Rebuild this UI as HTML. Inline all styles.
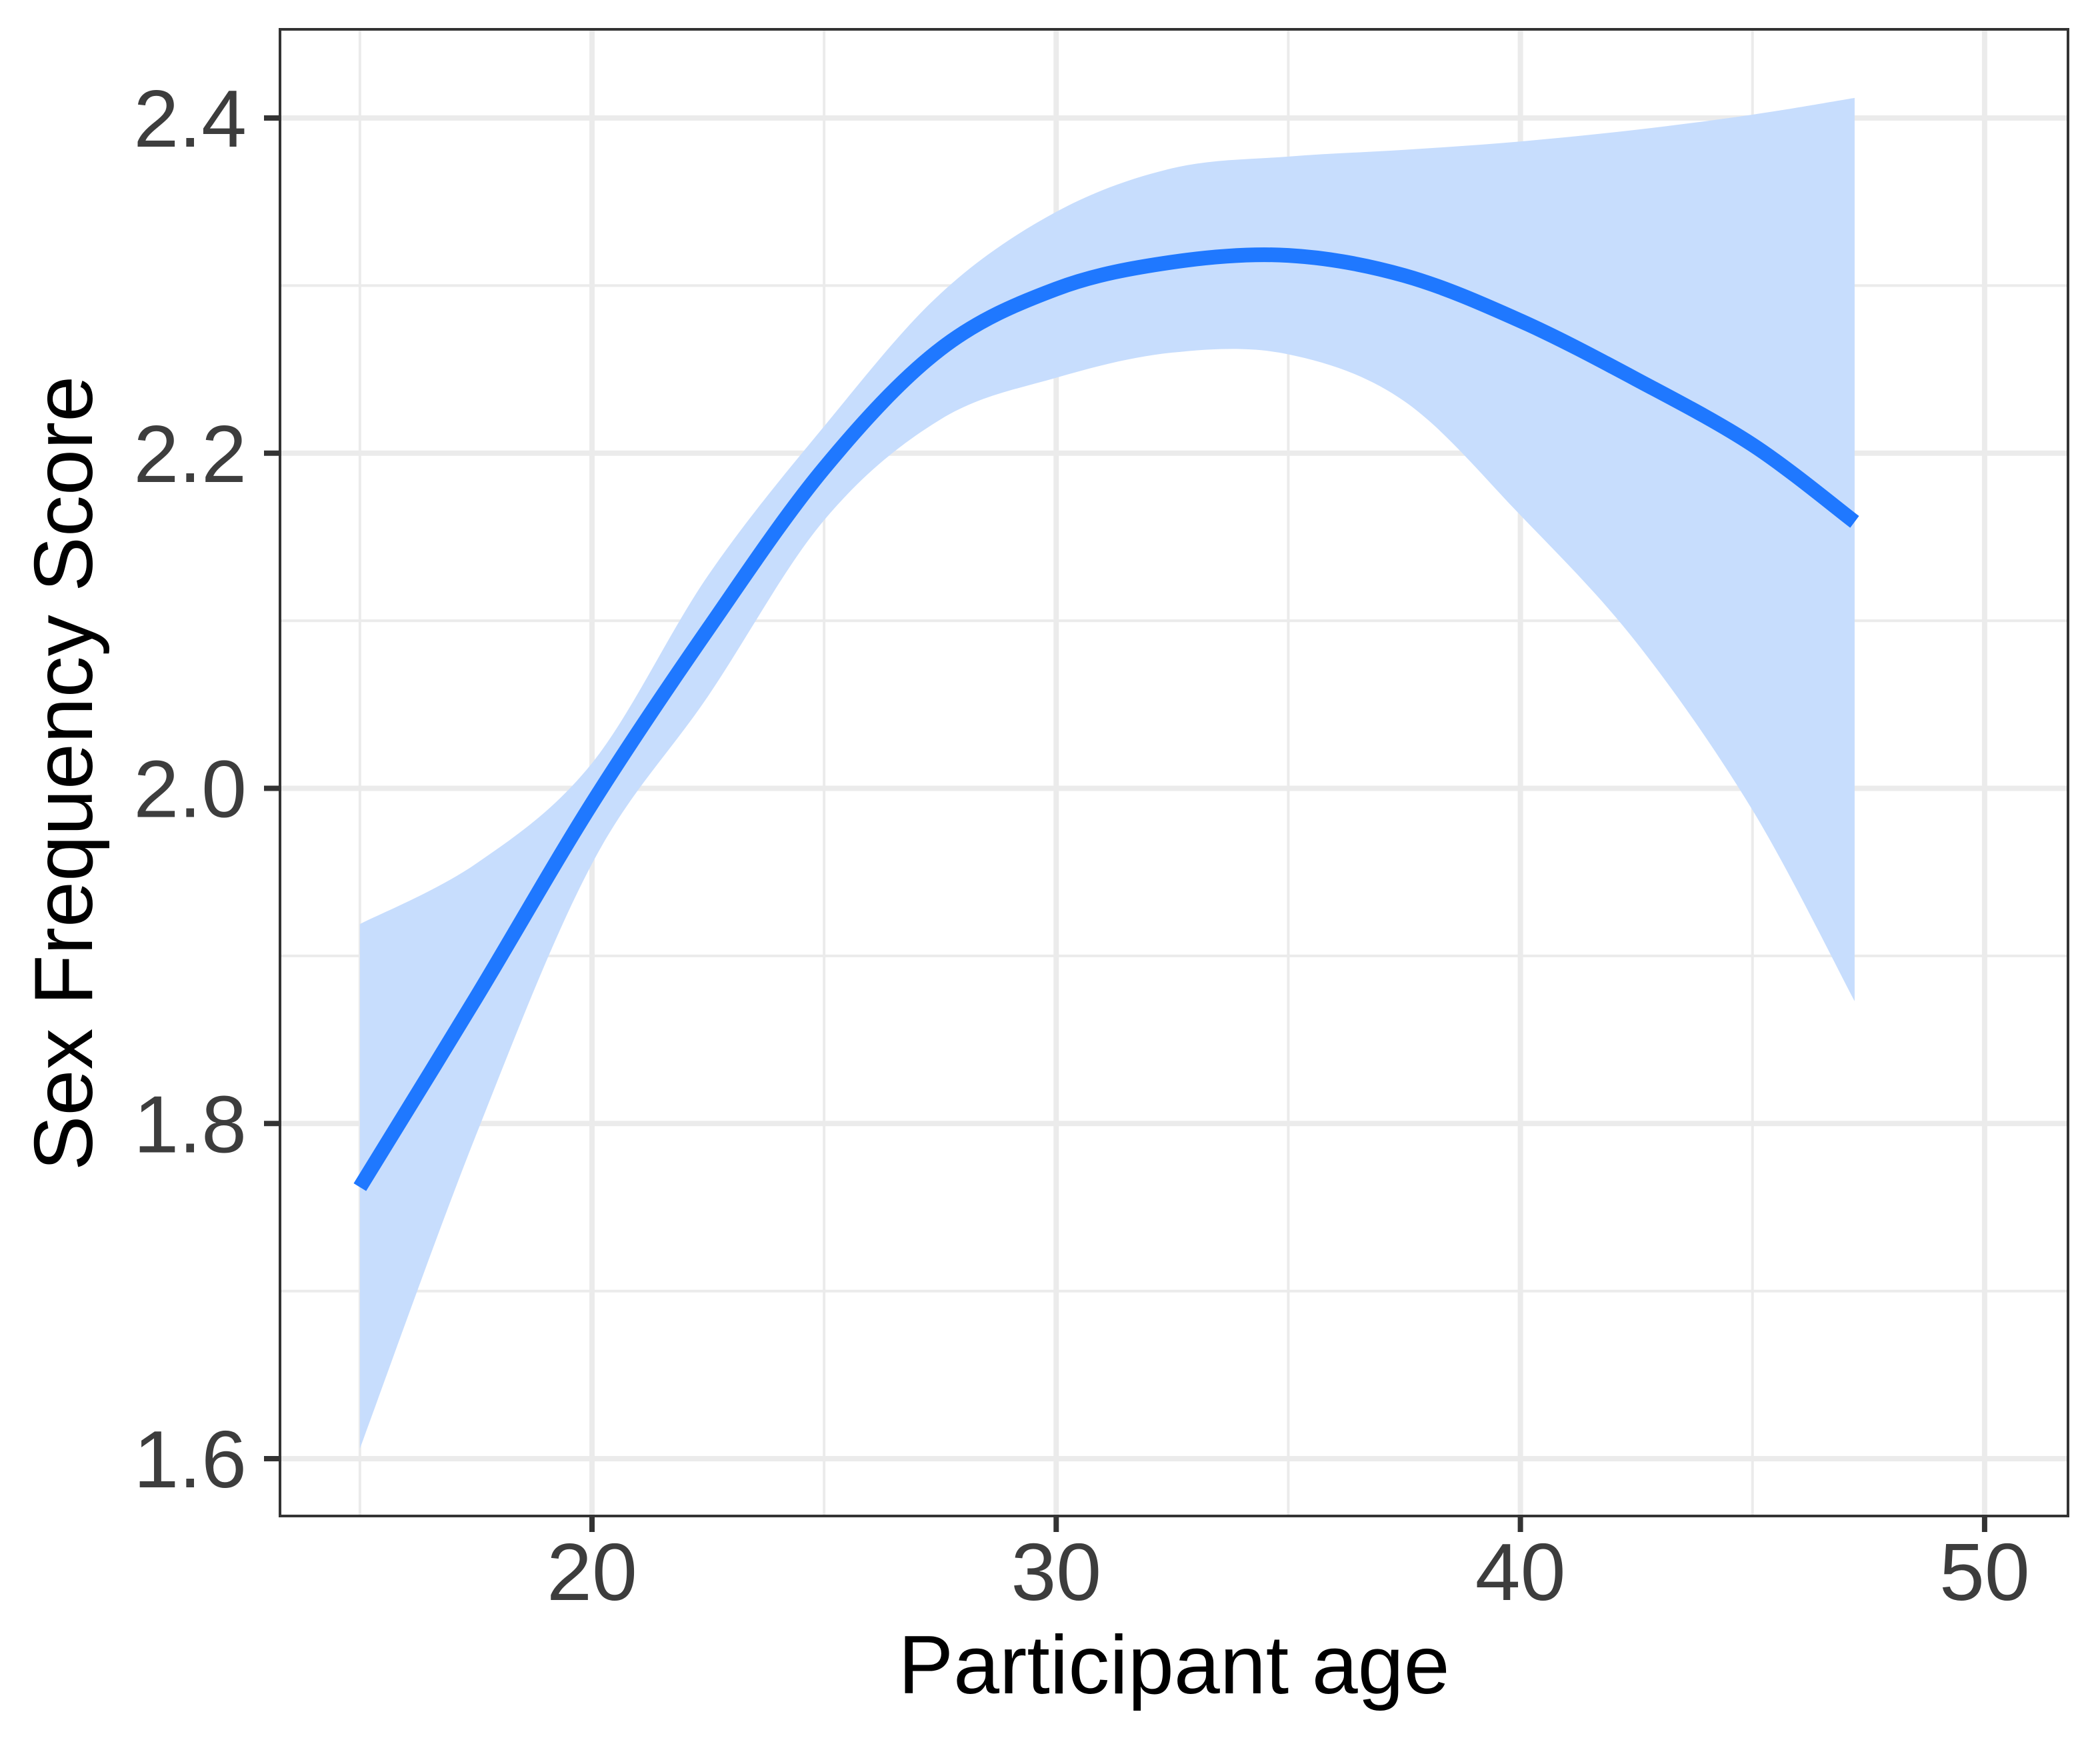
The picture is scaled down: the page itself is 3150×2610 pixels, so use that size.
<!DOCTYPE html>
<html><head><meta charset="utf-8"><style>body{margin:0;background:#fff}svg{display:block}</style></head>
<body>
<svg id="chart" width="3150" height="2610" viewBox="0 0 3150 2610" xmlns="http://www.w3.org/2000/svg" font-family="Liberation Sans, Arial, sans-serif">
<rect x="0" y="0" width="3150" height="2610" fill="#fff"/>
<g id="grid"></g>
<g id="marks"></g>
<rect x="420" y="44" width="2682" height="2230" fill="none" stroke="#333" stroke-width="4"/>
<g id="axes"></g>
<text x="1761" y="2540" font-size="124" text-anchor="middle" fill="#000">Participant age</text>
<text transform="translate(138,1160) rotate(-90)" font-size="124" text-anchor="middle" fill="#000">Sex Frequency Score</text>
</svg>
<script>
const ages = [15.0, 17.5, 20, 22.5, 25, 27.5, 30, 32.5, 35, 37.5, 40, 42.5, 45, 47.2];
const fitValues = [1.762, 1.875, 1.991, 2.095, 2.191, 2.262, 2.298, 2.314, 2.318, 2.306, 2.279, 2.244, 2.205, 2.159];
const upperValues = [1.919, 1.955, 2.015, 2.127, 2.216, 2.295, 2.344, 2.370, 2.377, 2.381, 2.386, 2.393, 2.402, 2.412];
const lowerValues = [1.606, 1.793, 1.955, 2.055, 2.160, 2.220, 2.245, 2.260, 2.259, 2.231, 2.163, 2.087, 1.987, 1.873];
const xTicks = [20, 30, 40, 50];
const xMinor = [15, 25, 35, 45];
const yTicks = [1.6, 1.8, 2.0, 2.2, 2.4];
const yMinor = [1.7, 1.9, 2.1, 2.3];
const xTickLabels = ["20", "30", "40", "50"];
const yTickLabels = ["1.6", "1.8", "2.0", "2.2", "2.4"];

const X = v => 888 + (v - 20) * 69.63;
const Y = v => 2188 - (v - 1.6) / 0.2 * 502.75;
const NS = "http://www.w3.org/2000/svg";
const L = 420, R = 3102, T = 44, B = 2274;
function mk(tag, attrs, parent) {
  const e = document.createElementNS(NS, tag);
  for (const k in attrs) e.setAttribute(k, attrs[k]);
  parent.appendChild(e);
  return e;
}
function smooth(pts) {
  let d = `M${pts[0][0]},${pts[0][1]}`;
  for (let i = 0; i < pts.length - 1; i++) {
    const p0 = pts[i - 1] || pts[i], p1 = pts[i], p2 = pts[i + 1], p3 = pts[i + 2] || p2;
    const c1 = [p1[0] + (p2[0] - p0[0]) / 6, p1[1] + (p2[1] - p0[1]) / 6];
    const c2 = [p2[0] - (p3[0] - p1[0]) / 6, p2[1] - (p3[1] - p1[1]) / 6];
    d += ` C${c1[0]},${c1[1]} ${c2[0]},${c2[1]} ${p2[0]},${p2[1]}`;
  }
  return d;
}
const grid = document.getElementById('grid');
const marks = document.getElementById('marks');
const axes = document.getElementById('axes');
xMinor.forEach(v => {
  const l = mk('line', {x1: X(v), x2: X(v), y1: T, y2: B, stroke: '#ebebeb', 'stroke-width': 4}, grid);
  
  
});
yMinor.forEach(v => {
  const l = mk('line', {x1: L, x2: R, y1: Y(v), y2: Y(v), stroke: '#ebebeb', 'stroke-width': 4}, grid);
  
  
});
xTicks.forEach((v, i) => {
  const l = mk('line', {x1: X(v), x2: X(v), y1: T, y2: B, stroke: '#ebebeb', 'stroke-width': 8}, grid);
  
  
  const t = mk('line', {x1: X(v), x2: X(v), y1: B, y2: B + 24, stroke: '#333', 'stroke-width': 8}, axes);
  
  
  const tx = mk('text', {x: X(v), y: 2400, 'font-size': 122, 'text-anchor': 'middle', fill: '#3d3d3d'}, axes);
  tx.textContent = xTickLabels[i];
  
  
});
yTicks.forEach((v, i) => {
  const l = mk('line', {x1: L, x2: R, y1: Y(v), y2: Y(v), stroke: '#ebebeb', 'stroke-width': 8}, grid);
  
  
  const t = mk('line', {x1: L - 24, x2: L, y1: Y(v), y2: Y(v), stroke: '#333', 'stroke-width': 8}, axes);
  
  
  const tx = mk('text', {x: 370, y: Y(v) + 43, 'font-size': 122, 'text-anchor': 'end', fill: '#3d3d3d'}, axes);
  tx.textContent = yTickLabels[i];
  
  
});
const up = ages.map((a, i) => [X(a), Y(upperValues[i])]);
const lo = ages.map((a, i) => [X(a), Y(lowerValues[i])]).reverse();
const bandD = smooth(up) + ' L' + smooth(lo).slice(1) + ' Z';
const band = mk('path', {d: bandD, fill: '#c7ddfd', stroke: 'none'}, marks);


const fit = ages.map((a, i) => [X(a), Y(fitValues[i])]);
const line = mk('path', {d: smooth(fit), fill: 'none', stroke: '#1f78ff', 'stroke-width': 22}, marks);


</script>
</body></html>
